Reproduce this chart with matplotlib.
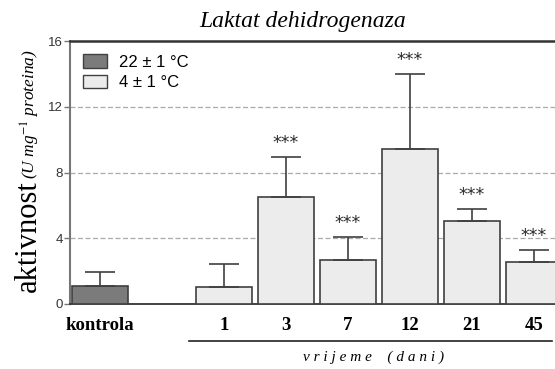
import matplotlib
matplotlib.use("Agg")
import matplotlib.pyplot as plt
from matplotlib.patches import Patch
from matplotlib.transforms import blended_transform_factory

plt.rcParams["mathtext.fontset"] = "stix"

# data
labels = ["kontrola", "1", "3", "7", "12", "21", "45"]
positions = [0, 2, 3, 4, 5, 6, 7]
values = [1.1, 1.05, 6.5, 2.7, 9.45, 5.05, 2.55]
errors = [0.85, 1.4, 2.45, 1.38, 4.55, 0.75, 0.75]
stars = ["", "", "***", "***", "***", "***", "***"]
groups = ["22 ± 1 °C", "4 ± 1 °C"]

darkGrey = "#7b7b7b"
lightGrey = "#ececec"
edge = "#404040"

fig = plt.figure(figsize=(5.55, 3.69), dpi=100)
ax = fig.add_axes([70 / 555, 65 / 369, 485 / 555, 263 / 369])

colors = [darkGrey] + [lightGrey] * (len(values) - 1)
ax.bar(positions, values, width=0.9, color=colors, edgecolor=edge, linewidth=1.2, zorder=3)
ax.errorbar(positions, values, yerr=[[0] * len(errors), errors], fmt="none",
            ecolor=edge, elinewidth=1.2, capsize=10.5, capthick=1.2, zorder=4)

for p, v, e, s in zip(positions, values, errors, stars):
    if s:
        ax.text(p, v + e + 0.3, s, ha="center", va="bottom", fontsize=12.5,
                color="#2a2a2a", family="DejaVu Sans")

ax.set_xlim(-0.484, 7.34)
ax.set_ylim(0, 16)
ax.set_yticks([0, 4, 8, 12, 16])
ax.set_xticks(positions)
ax.set_xticklabels(labels, family="Liberation Serif", fontweight="bold", fontsize=13.5)
for t in ax.get_yticklabels():
    t.set_family("Liberation Sans")
    t.set_fontsize(9.5)
    t.set_color("#333333")
ax.tick_params(axis="x", length=0, pad=9)
ax.tick_params(axis="y", length=4, width=1, color="#777777", pad=1)

for y in [4, 8, 12]:
    ax.axhline(y, color="#aaaaaa", linestyle=(0, (4, 2)), linewidth=0.9, zorder=1)

ax.spines["left"].set_color("#777777")
ax.spines["left"].set_linewidth(1.5)
ax.spines["bottom"].set_color("#333333")
ax.spines["bottom"].set_linewidth(1.3)
ax.spines["top"].set_color("#333333")
ax.spines["top"].set_linewidth(1.8)
ax.spines["right"].set_visible(False)

handles = [Patch(facecolor=darkGrey, edgecolor=edge, linewidth=1),
           Patch(facecolor=lightGrey, edgecolor=edge, linewidth=1)]
leg = ax.legend(handles, groups, loc="upper left", frameon=False,
                prop={"family": "Liberation Sans", "size": 12},
                handlelength=1.4, handleheight=0.85, handletextpad=0.75,
                labelspacing=0.3, borderaxespad=0.4, bbox_to_anchor=(0.0, 1.0))

# line under the time points and its label
trans = blended_transform_factory(ax.transData, ax.transAxes)
ax.plot([1.435, 7.29], [-0.141, -0.141], color="#222222", linewidth=1.2,
        transform=trans, clip_on=False)
fig.text(374 / 555, 1 - 357 / 369, "v r i j e m e    ( d a n i )", ha="center", va="center",
         family="Liberation Serif", style="italic", fontsize=11)

fig.text(303 / 555, 1 - 22 / 369, "Laktat dehidrogenaza", ha="center", va="center",
         family="Liberation Serif", style="italic", fontsize=17)

fig.text(36 / 555, 1 - 292 / 369, "aktivnost", rotation=90, rotation_mode="anchor",
         ha="left", va="baseline", family="Liberation Serif", fontsize=22)
fig.text(36 / 555, 1 - 179 / 369, "(U mg$^{-1}$ proteina)", rotation=90, rotation_mode="anchor",
         ha="left", va="baseline", family="Liberation Serif", style="italic", fontsize=12.5)

fig.savefig("out.png", dpi=100)
